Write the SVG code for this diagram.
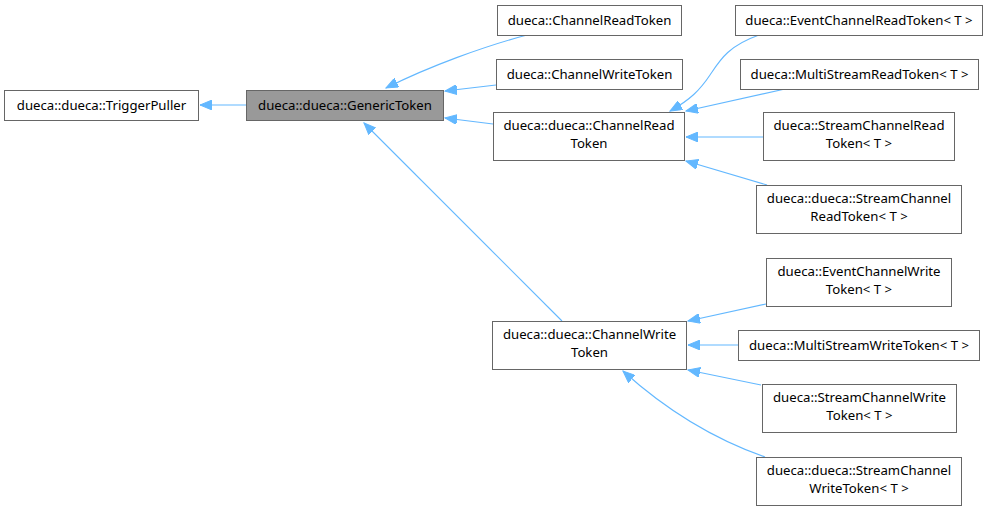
<svg xmlns="http://www.w3.org/2000/svg" width="989" height="511" viewBox="0 0 989 511">
<style>
.n rect{fill:#ffffff;stroke:#666666;stroke-width:1}
.n.h rect{fill:#999999}
.n text{font-family:"Noto Sans","DejaVu Sans",sans-serif;font-size:13.2px;fill:#000000;text-anchor:middle}
.e path{fill:none;stroke:#63b8ff;stroke-width:1.1}
</style>
<defs>
<marker id="a" markerUnits="userSpaceOnUse" markerWidth="14" markerHeight="10" viewBox="-12 -5 14 10" refX="0" refY="0" orient="auto">
<path d="M-12,-5 L0,0 L-12,5 z" fill="#63b8ff" stroke="#63b8ff" stroke-width="1"/>
</marker>
</defs>
<rect width="989" height="511" fill="#ffffff"/>
<g class="e">
<path d="M246,105 L200,105" marker-end="url(#a)"/>
<path d="M527,35 C485,46 430,66 386,88" marker-end="url(#a)"/>
<path d="M496,85 L445,91" marker-end="url(#a)"/>
<path d="M493,124 L445,118" marker-end="url(#a)"/>
<path d="M562,321 L364,123" marker-end="url(#a)"/>
<path d="M759,35 C728,46 720,60 710,75 C700,90 690,100 670,111" marker-end="url(#a)"/>
<path d="M785,89 L686,111" marker-end="url(#a)"/>
<path d="M763,137 L686,137" marker-end="url(#a)"/>
<path d="M767,185 L686,161" marker-end="url(#a)"/>
<path d="M766,304 L688,321" marker-end="url(#a)"/>
<path d="M738,345 L688,345" marker-end="url(#a)"/>
<path d="M761,385 L688,370" marker-end="url(#a)"/>
<path d="M765,457 C725,443 675,418 623,371" marker-end="url(#a)"/>
</g>
<g id="TriggerPuller" class="n"><rect x="4.5" y="90.5" width="194" height="30"/><text x="101.5" y="110">dueca::dueca::TriggerPuller</text></g>
<g id="GenericToken" class="n h"><rect x="246.5" y="90.5" width="197" height="30"/><text x="345" y="110">dueca::dueca::GenericToken</text></g>
<g id="ChannelReadToken" class="n"><rect x="497.5" y="5.5" width="184" height="30"/><text x="589.5" y="25">dueca::ChannelReadToken</text></g>
<g id="ChannelWriteToken" class="n"><rect x="496.5" y="59.5" width="186" height="30"/><text x="589.5" y="79">dueca::ChannelWriteToken</text></g>
<g id="ChannelRead" class="n"><rect x="493.5" y="112.5" width="191" height="48"/><text x="589" y="130">dueca::dueca::ChannelRead</text><text x="589" y="148">Token</text></g>
<g id="ChannelWrite" class="n"><rect x="492.5" y="321.5" width="194" height="48"/><text x="589.5" y="339">dueca::dueca::ChannelWrite</text><text x="589.5" y="357">Token</text></g>
<g id="EventChannelReadToken" class="n"><rect x="735.5" y="5.5" width="247" height="30"/><text x="859" y="25">dueca::EventChannelReadToken&lt; T &gt;</text></g>
<g id="MultiStreamReadToken" class="n"><rect x="740.5" y="59.5" width="238" height="30"/><text x="859.5" y="79">dueca::MultiStreamReadToken&lt; T &gt;</text></g>
<g id="StreamChannelReadToken" class="n"><rect x="763.5" y="112.5" width="191" height="48"/><text x="859" y="130">dueca::StreamChannelRead</text><text x="859" y="148">Token&lt; T &gt;</text></g>
<g id="DStreamChannelReadToken" class="n"><rect x="756.5" y="185.5" width="205" height="48"/><text x="859" y="203">dueca::dueca::StreamChannel</text><text x="859" y="221">ReadToken&lt; T &gt;</text></g>
<g id="EventChannelWriteToken" class="n"><rect x="766.5" y="258.5" width="185" height="48"/><text x="859" y="276">dueca::EventChannelWrite</text><text x="859" y="294">Token&lt; T &gt;</text></g>
<g id="MultiStreamWriteToken" class="n"><rect x="738.5" y="330.5" width="241" height="30"/><text x="859" y="350">dueca::MultiStreamWriteToken&lt; T &gt;</text></g>
<g id="StreamChannelWriteToken" class="n"><rect x="762.5" y="384.5" width="194" height="48"/><text x="859.5" y="402">dueca::StreamChannelWrite</text><text x="859.5" y="420">Token&lt; T &gt;</text></g>
<g id="DStreamChannelWriteToken" class="n"><rect x="756.5" y="457.5" width="205" height="48"/><text x="859" y="475">dueca::dueca::StreamChannel</text><text x="859" y="493">WriteToken&lt; T &gt;</text></g>
</svg>
